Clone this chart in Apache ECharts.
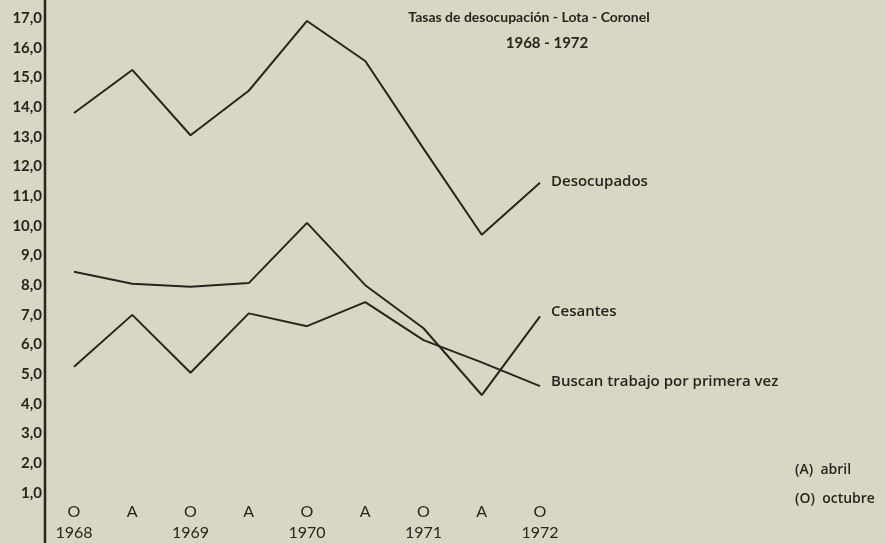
<!DOCTYPE html>
<html><head><meta charset="utf-8">
<script src="https://cdn.jsdelivr.net/npm/echarts@6/dist/echarts.min.js"></script>
<style>html,body{margin:0;padding:0;background:#d9d7c4;}#c{width:886px;height:543px;}</style>
</head><body><div id="c"></div>
<script>
const periods = ['O','A','O','A','O','A','O','A','O'];
const years = ['1968','','1969','','1970','','1971','','1972'];
const yTicks = [1,2,3,4,5,6,7,8,9,10,11,12,13,14,15,16,17];
const desocupados = [13.8, 15.25, 13.05, 14.55, 16.9, 15.55, 12.6, 9.7, 11.45];
const cesantes = [8.45, 8.05, 7.95, 8.07, 10.1, 8.0, 6.55, 4.3, 6.95];
const buscan = [5.25, 7.0, 5.05, 7.05, 6.62, 7.43, 6.15, 5.4, 4.6];
const seriesNames = ['Desocupados','Cesantes','Buscan trabajo por primera vez'];
const title1 = 'Tasas de desocupación - Lota - Coronel';
const title2 = '1968 - 1972';
const noteA = '(A)  abril';
const noteO = '(O)  octubre';

const ink = '#26251f';
const font = 'Lato';
const font2 = 'Open Sans';
const chart = echarts.init(document.getElementById('c'));
const cats = periods.map((p,i)=>i);
function lineSeries(name, data, dy){
  return {name, type:'line', data, symbol:'none', smooth:false,
    lineStyle:{color:ink,width:2}, animation:false,
    endLabel:{show:true, formatter:name, color:ink, fontFamily:font2, fontWeight:600, fontSize:15, distance:11, offset:[0,dy]}};
}
chart.setOption({
  backgroundColor:'#d9d7c4',
  animation:false,
  title:[
    {text:title1, left:524, top:5, textAlign:'center', textStyle:{fontFamily:font,fontWeight:'bold',fontSize:14,color:ink}},
    {text:title2, left:542, top:31, textAlign:'center', textStyle:{fontFamily:font,fontWeight:'bold',fontSize:15,color:ink}},
    {text:noteA, left:790, top:458, textStyle:{fontFamily:font2,fontWeight:600,fontSize:14,color:ink}},
    {text:noteO, left:790, top:487, textStyle:{fontFamily:font2,fontWeight:600,fontSize:14,color:ink}}
  ],
  grid:{left:74, right:346, top:18, bottom:50},
  xAxis:{type:'category', data:cats, boundaryGap:false,
    axisLine:{show:false}, axisTick:{show:false},
    axisLabel:{margin:8, interval:0, formatter:(v)=>{const i=+v; return '{p|'+periods[i]+'}\n{y|'+(years[i]||' ')+'}';},
      rich:{p:{fontFamily:font,fontSize:16,color:ink,lineHeight:21,align:'center'},
            y:{fontFamily:font,fontSize:16,color:ink,lineHeight:21,align:'center'}}}},
  yAxis:{type:'value', min:1, max:17, interval:1, position:'left', offset:29,
    axisLine:{show:false}, axisTick:{show:false}, splitLine:{show:false},
    axisLabel:{margin:3, fontFamily:font, fontSize:15, fontWeight:'bold', color:ink,
      formatter:(v)=> yTicks.includes(v) ? v.toFixed(1).replace('.',',') : ''}},
  graphic:[{type:'line', shape:{x1:45,y1:0,x2:45,y2:543}, style:{stroke:ink,lineWidth:2.5}}],
  series:[lineSeries(seriesNames[0],desocupados,-1), lineSeries(seriesNames[1],cesantes,-5), lineSeries(seriesNames[2],buscan,-4)]
});
</script></body></html>
